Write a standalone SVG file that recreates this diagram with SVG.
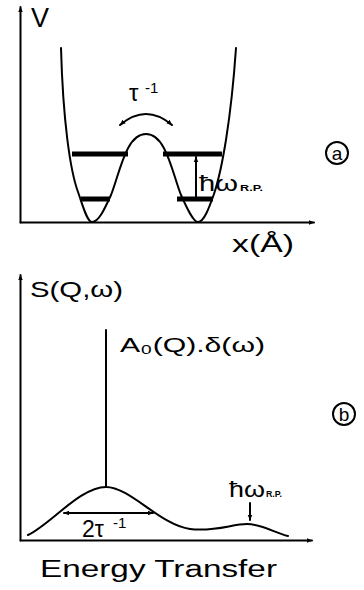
<svg xmlns="http://www.w3.org/2000/svg" width="364" height="590" viewBox="0 0 364 590">
<defs>
<marker id="ah" viewBox="0 0 10 10" refX="9" refY="5" markerWidth="6" markerHeight="6" orient="auto-start-reverse" markerUnits="userSpaceOnUse">
<path d="M0,1 L10,5 L0,9 Z" fill="#000"/>
</marker>
</defs>
<style>
.ln{fill:none;stroke:#000;stroke-width:2;stroke-linecap:round;stroke-linejoin:round}
.lv{fill:none;stroke:#000;stroke-width:5}
.t{font-family:"Liberation Sans","DejaVu Sans",sans-serif;fill:#000}
.s{font-family:"Liberation Sans","DejaVu Sans",sans-serif;fill:#000;font-weight:bold}
</style>
<rect width="364" height="590" fill="#fff"/>
<g id="panel-a">
<g id="axes-a">
<path class="ln" d="M20.5,222.5 L20.5,7" marker-end="url(#ah)"/>
<path class="ln" d="M20.5,222.5 L314,222.5" marker-end="url(#ah)"/>
</g>
<text class="t" x="31" y="27" font-size="27">V</text>
<text class="t" x="232" y="252" font-size="23" textLength="62" lengthAdjust="spacingAndGlyphs">x(Å)</text>
<g id="potential">
<path class="ln" d="M61,48 C63,120 70,170 78,192 C83,206 87,222 92,222 C99,222 105,208 111,195 C120,172 126,134 146,134 C166,134 172,172 181,195 C187,208 193,222 198,222 C204,222 209,208 214,194 C222,170 231,120 236,48"/>
</g>
<g id="levels">
<path class="lv" d="M72,154 L128,154 M163,154 L222,154"/>
<path class="lv" d="M81,199 L110,199 M177,199 L213,199"/>
</g>
<g id="tunnel">
<path class="ln" d="M120,125 Q146,103 172,125" marker-start="url(#ah)" marker-end="url(#ah)"/>
<text class="t" x="129" y="101" font-size="24">τ</text>
<text class="t" x="145" y="93" font-size="15">-1</text>
</g>
<g id="rp-a">
<path class="ln" d="M196,199 L196,157" marker-end="url(#ah)"/>
<text class="t" x="199" y="191" font-size="22" textLength="39" lengthAdjust="spacingAndGlyphs">ħω</text>
<text class="s" x="240" y="191" font-size="9" textLength="23" lengthAdjust="spacingAndGlyphs">R.P.</text>
</g>
<g id="label-a">
<circle cx="337" cy="153" r="11" fill="none" stroke="#000" stroke-width="2"/>
<text class="t" x="337" y="159.5" font-size="19" text-anchor="middle">a</text>
</g>
</g>
<g id="panel-b">
<g id="axes-b">
<path class="ln" d="M20.5,540.5 L20.5,275" marker-end="url(#ah)"/>
<path class="ln" d="M20.5,540.5 L312,540.5" marker-end="url(#ah)"/>
</g>
<text class="t" x="30" y="297" font-size="22" textLength="93" lengthAdjust="spacingAndGlyphs">S(Q,ω)</text>
<text class="t" x="40" y="577" font-size="23" textLength="237" lengthAdjust="spacingAndGlyphs">Energy Transfer</text>
<g id="spectrum">
<path class="ln" d="M106,330 L106,487"/>
<path class="ln" d="M28,535 C50,525 80,487 106,487 C130,487 160,525 190,529 C215,532 232,524 247,524 C262,524 275,533 288,536"/>
<text class="t" x="120" y="352" font-size="21" textLength="145" lengthAdjust="spacingAndGlyphs">A₀(Q).δ(ω)</text>
</g>
<g id="width">
<path class="ln" d="M64,513 L153,513" marker-start="url(#ah)" marker-end="url(#ah)"/>
<text class="t" x="82" y="537" font-size="23">2τ</text>
<text class="t" x="113" y="528" font-size="15">-1</text>
</g>
<g id="rp-b">
<text class="t" x="229" y="497" font-size="22" textLength="36" lengthAdjust="spacingAndGlyphs">ħω</text>
<text class="s" x="266" y="497" font-size="9" textLength="16" lengthAdjust="spacingAndGlyphs">R.P.</text>
<path class="ln" d="M250,503 L250,520" marker-end="url(#ah)"/>
</g>
<g id="label-b">
<circle cx="344" cy="414" r="11" fill="none" stroke="#000" stroke-width="2"/>
<text class="t" x="344" y="420.5" font-size="19" text-anchor="middle">b</text>
</g>
</g>
</svg>
